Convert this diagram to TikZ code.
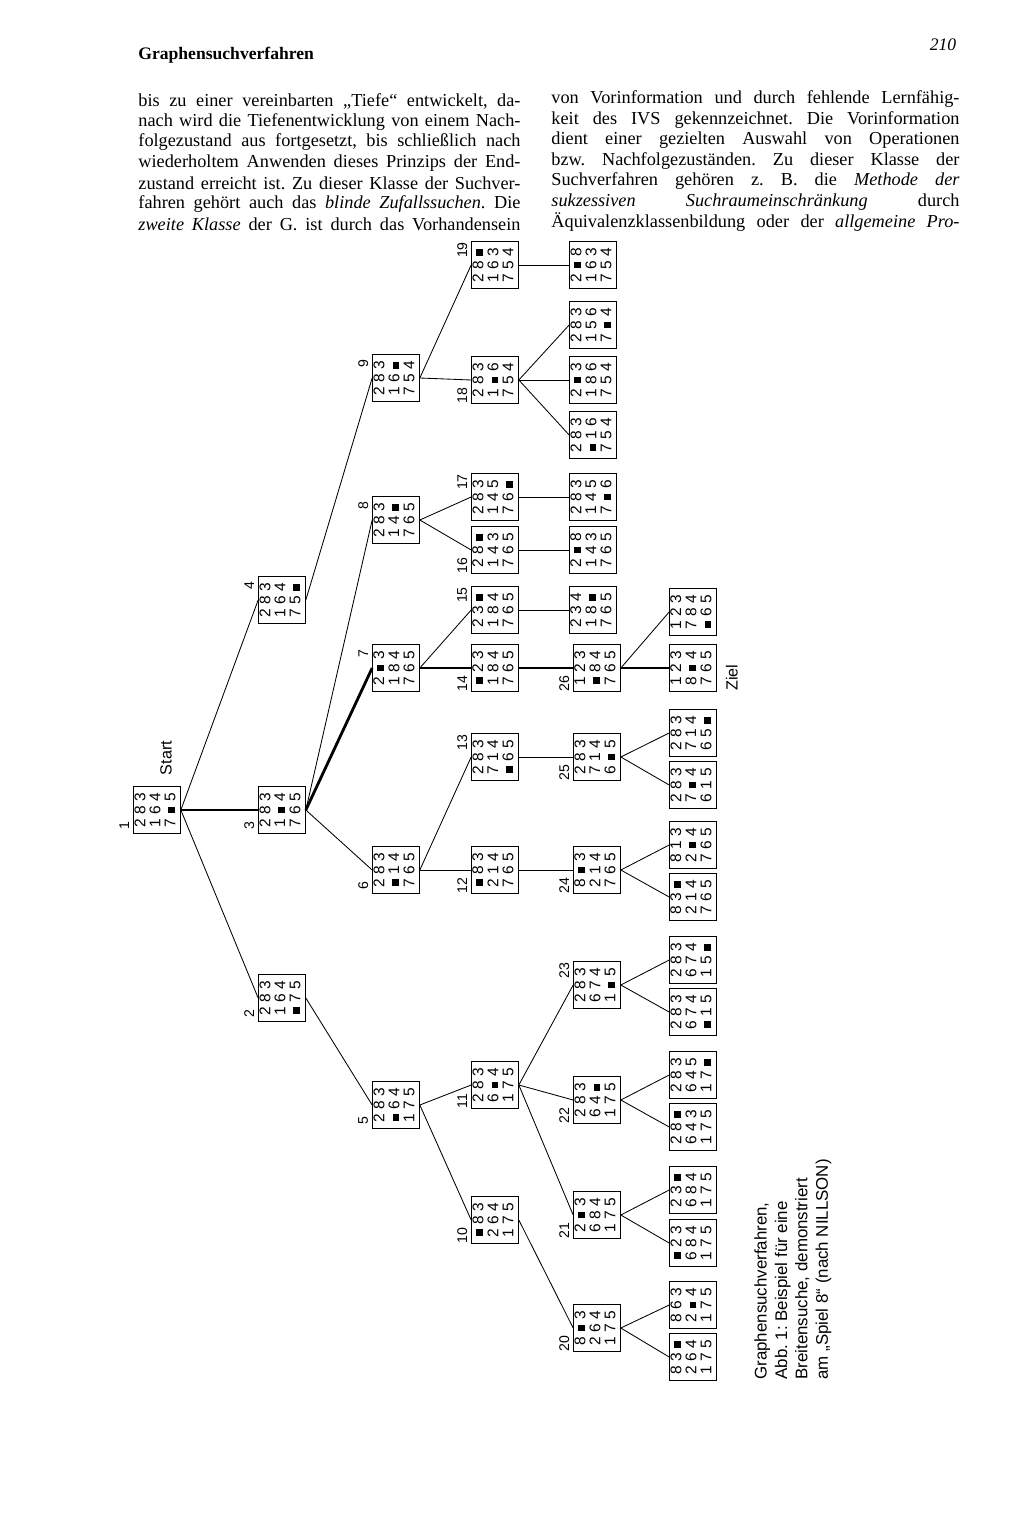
\documentclass[tikz,border=0pt]{standalone}
\usepackage{fontspec}
\setmainfont{Liberation Serif}
\setsansfont{Liberation Sans}
\usepackage{tikz}
\frenchspacing
\newcommand\B{\rule{1.7mm}{1.7mm}}
\newcommand\pz[9]{\renewcommand\arraystretch{0.78}\setlength\tabcolsep{1.5pt}%
  \begin{tabular}{@{}ccc@{}}#1&#2&#3\\#4&#5&#6\\#7&#8&#9\end{tabular}}
\newcommand\tline[1]{\makebox[9.55cm][s]{#1}}
\newcommand\rline[1]{\makebox[10.2cm][s]{#1}}

\begin{document}
\begin{tikzpicture}[x=0.025cm, y=-0.025cm, line width=0.6pt,
    pz/.style={draw, rotate=90, minimum size=1.17cm, inner sep=0pt, font=\sffamily\fontsize{11}{13}\selectfont},
    num/.style={rotate=90, font=\sffamily\fontsize{10}{11}\selectfont},
    path/.style={line width=2pt},
    txt/.style={anchor=west, inner sep=0pt, font=\fontsize{13}{15}\selectfont}]
  \useasboundingbox (0,0) rectangle (1024,1517);
  % page head and text
  \node[anchor=west, inner sep=0pt, font=\bfseries\fontsize{12.5}{14}\selectfont] (head) at (138,55) {Graphensuchverfahren};
  \node[inner sep=0pt, font=\itshape\fontsize{12.5}{14}\selectfont] (page) at (943,45) {210};
  \node[txt] (l1) at (138,101) {\tline{bis zu einer vereinbarten ,,Tiefe`` entwickelt, da-}};
  \node[txt] (l2) at (138,122) {\tline{nach wird die Tiefenentwicklung von einem Nach-}};
  \node[txt] (l3) at (138,142) {\tline{folgezustand aus fortgesetzt, bis schließlich nach}};
  \node[txt] (l4) at (138,163) {\tline{wiederholtem Anwenden dieses Prinzips der End-}};
  \node[txt] (l5) at (138,183) {\tline{zustand erreicht ist. Zu dieser Klasse der Suchver-}};
  \node[txt] (l6) at (138,204) {\tline{fahren gehört auch das \emph{blinde Zufallssuchen}. Die}};
  \node[txt] (l7) at (138,224) {\tline{\emph{zweite Klasse} der G. ist durch das Vorhandensein}};
  \node[txt] (r1) at (551,99) {\rline{von Vorinformation und durch fehlende Lernfähig-}};
  \node[txt] (r2) at (551,120) {\rline{keit des IVS gekennzeichnet. Die Vorinformation}};
  \node[txt] (r3) at (551,140) {\rline{dient einer gezielten Auswahl von Operationen}};
  \node[txt] (r4) at (551,161) {\rline{bzw. Nachfolgezuständen. Zu dieser Klasse der}};
  \node[txt] (r5) at (551,181) {\rline{Suchverfahren gehören z. B. die \emph{Methode der}}};
  \node[txt] (r6) at (551,202) {\rline{\emph{sukzessiven Suchraumeinschränkung} durch}};
  \node[txt] (r7) at (551,222) {\rline{Äquivalenzklassenbildung oder der \emph{allgemeine Pro-}}};

  % states
  \node[pz] (n1) at (157,810) {\pz283164 7\B5};
  \node[pz] (n2) at (282,998) {\pz283164\B75};
  \node[pz] (n3) at (282,810) {\pz2831\B4765};
  \node[pz] (n4) at (282,600) {\pz28316475\B};
  \node[pz] (n5) at (396,1105) {\pz283\B64175};
  \node[pz] (n6) at (396,870) {\pz283\B14765};
  \node[pz] (n7) at (396,668) {\pz2\B3184765};
  \node[pz] (n8) at (396,520) {\pz28314\B765};
  \node[pz] (n9) at (396,378) {\pz28316\B754};
  \node[pz] (n10) at (495,1220) {\pz\B83264175};
  \node[pz] (n11) at (495,1085) {\pz2836\B4175};
  \node[pz] (n12) at (495,870) {\pz\B83214765};
  \node[pz] (n13) at (495,757) {\pz283714\B65};
  \node[pz] (n14) at (495,668) {\pz\B23184765};
  \node[pz] (n15) at (495,610) {\pz23\B184765};
  \node[pz] (n16) at (495,550) {\pz28\B143765};
  \node[pz] (n17) at (495,497) {\pz28314576\B};
  \node[pz] (n18) at (495,380) {\pz2831\B6754};
  \node[pz] (n19) at (495,265) {\pz28\B163754};
  \node[pz] (n20) at (597,1328) {\pz8\B3264175};
  \node[pz] (n21) at (597,1215) {\pz2\B3684175};
  \node[pz] (n22) at (597,1100) {\pz28364\B175};
  \node[pz] (n23) at (597,985) {\pz2836741\B5};
  \node[pz] (n24) at (597,870) {\pz8\B3214765};
  \node[pz] (n25) at (597,757) {\pz2837146\B5};
  \node[pz] (n26) at (597,668) {\pz123\B84765};
  \node[pz] (c19) at (593,265) {\pz2\B8163754};
  \node[pz] (c18a) at (593,325) {\pz2831567\B4};
  \node[pz] (c18b) at (593,380) {\pz2\B3186754};
  \node[pz] (c18c) at (593,435) {\pz283\B16754};
  \node[pz] (c17) at (593,497) {\pz2831457\B6};
  \node[pz] (c16) at (593,550) {\pz2\B8143765};
  \node[pz] (c15) at (593,610) {\pz23418\B765};
  \node[pz] (c26a) at (693,612) {\pz123784\B65};
  \node[pz] (c26b) at (693,668) {\pz1238\B4765};
  \node[pz] (c25a) at (693,733) {\pz28371465\B};
  \node[pz] (c25b) at (693,785) {\pz2837\B4615};
  \node[pz] (c24a) at (693,845) {\pz8132\B4765};
  \node[pz] (c24b) at (693,897) {\pz83\B214765};
  \node[pz] (c23a) at (693,960) {\pz28367415\B};
  \node[pz] (c23b) at (693,1012) {\pz283674\B15};
  \node[pz] (c22a) at (693,1075) {\pz28364517\B};
  \node[pz] (c22b) at (693,1127) {\pz28\B643175};
  \node[pz] (c21a) at (693,1190) {\pz23\B684175};
  \node[pz] (c21b) at (693,1243) {\pz\B23684175};
  \node[pz] (c20a) at (693,1305) {\pz8632\B4175};
  \node[pz] (c20b) at (693,1357) {\pz83\B264175};

  % numbers
  \foreach \k in {1,2,3,5,6,10,11,12,14,16,18,20,21,22,24,25,26}
    \node[num] at ([shift={(-9,-8)}]n\k.north west) {\k};
  \foreach \k in {4,7,8,9,13,15,17,19,23}
    \node[num] at ([shift={(-9,9)}]n\k.north east) {\k};
  \node[num, anchor=south west, font=\sffamily\fontsize{11.5}{12}\selectfont] (start) at ([shift={(-4,-6)}]n1.south east) {Start};
  \node[num, anchor=north west, font=\sffamily\fontsize{11.5}{12}\selectfont] (ziel) at ([shift={(4,4)}]c26b.south west) {Ziel};

  % edges
  \draw (n1.south) -- (n4.north);
  \draw (n1.south) -- (n2.north);
  \draw (n4.south) -- (n9.north);
  \draw (n3.south) -- (n8.north);
  \draw (n3.south) -- (n6.north);
  \draw (n2.south) -- (n5.north);
  \draw (n9.south) -- (n19.north);
  \draw (n9.south) -- (n18.north);
  \draw (n8.south) -- (n17.north);
  \draw (n8.south) -- (n16.north);
  \draw (n7.south) -- (n15.north);
  \draw (n6.south) -- (n13.north);
  \draw (n6.south) -- (n12.north);
  \draw (n5.south) -- (n11.north);
  \draw (n5.south) -- (n10.north);
  \draw (n19.south) -- (c19.north);
  \foreach \c in {c18a,c18b,c18c} \draw (n18.south) -- (\c.north);
  \draw (n17.south) -- (c17.north);
  \draw (n16.south) -- (c16.north);
  \draw (n15.south) -- (c15.north);
  \draw (n13.south) -- (n25.north);
  \draw (n12.south) -- (n24.north);
  \foreach \c in {n23,n22,n21} \draw (n11.south) -- (\c.north);
  \draw (n10.south) -- (n20.north);
  \draw (n26.south) -- (c26a.north);
  \foreach \p in {20,21,22,23,24,25} {
    \draw (n\p.south) -- (c\p a.north);
    \draw (n\p.south) -- (c\p b.north);
  }
  \draw[path] (n1.south) -- (n3.north);
  \draw[path] (n3.south) -- (n7.north);
  \draw[path] (n7.south) -- (n14.north);
  \draw[path] (n14.south) -- (n26.north);
  \draw[path] (n26.south) -- (c26b.north);

  % caption
  \node[rotate=90, anchor=north west, align=left, inner sep=0pt,
    font=\sffamily\fontsize{12}{14.5}\selectfont] (cap) at (754,1380)
    {Graphensuchverfahren,\\Abb. 1: Beispiel für eine\\Breitensuche, demonstriert\\am „Spiel 8“ (nach NILLSON)};
\end{tikzpicture}
\end{document}
